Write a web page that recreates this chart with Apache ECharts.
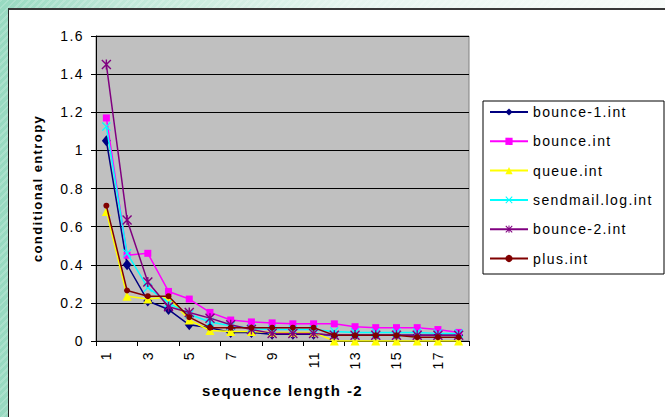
<!DOCTYPE html>
<html>
<head>
<meta charset="utf-8">
<script src="https://cdn.jsdelivr.net/npm/echarts@6/dist/echarts.min.js"></script>
<style>
  html, body { margin: 0; padding: 0; width: 665px; height: 417px; overflow: hidden; }
  body {
    background:
      repeating-linear-gradient(135deg, rgba(255,255,255,0.18) 0 2px, rgba(255,255,255,0) 2px 5px),
      linear-gradient(90deg, #97d9c0 0px, #bfe8d8 120px, #e6f5ef 350px, #f7fbf9 665px);
    position: relative;
  }
  #frame { position: absolute; left: 8px; top: 8px; width: 700px; height: 420px; background: #fff;
    border-top: 2px solid #383838; border-left: 1px solid #222; }
  #chart { position: absolute; left: 0; top: 0; width: 665px; height: 417px; }
  #chart svg text { letter-spacing: 1.4px; }
</style>
</head>
<body>
<div id="frame"></div>
<div id="chart"></div>
<script>
const categories = ['1','2','3','4','5','6','7','8','9','10','11','12','13','14','15','16','17','18'];
const bounce1  = [1.05, 0.40, 0.21, 0.165, 0.085, 0.07, 0.045, 0.045, 0.035, 0.035, 0.035, 0.03, 0.03, 0.03, 0.03, 0.03, 0.03, 0.03];
const bounce   = [1.17, 0.45, 0.46, 0.26, 0.22, 0.15, 0.11, 0.10, 0.095, 0.09, 0.09, 0.09, 0.075, 0.07, 0.07, 0.07, 0.06, 0.045];
const queue    = [0.68, 0.235, 0.22, 0.23, 0.11, 0.055, 0.05, 0.05, 0.045, 0.045, 0.045, 0.0, 0.0, 0.0, 0.0, 0.0, 0.0, 0.0];
const sendmail = [1.125, 0.46, 0.28, 0.20, 0.14, 0.10, 0.08, 0.065, 0.06, 0.06, 0.06, 0.05, 0.045, 0.045, 0.045, 0.045, 0.04, 0.04];
const bounce2  = [1.45, 0.635, 0.31, 0.18, 0.15, 0.12, 0.085, 0.06, 0.04, 0.04, 0.04, 0.03, 0.03, 0.03, 0.03, 0.03, 0.03, 0.03];
const plus     = [0.71, 0.265, 0.235, 0.235, 0.125, 0.07, 0.07, 0.07, 0.07, 0.07, 0.07, 0.03, 0.03, 0.03, 0.03, 0.02, 0.02, 0.02];
const seriesNames = ['bounce-1.int', 'bounce.int', 'queue.int', 'sendmail.log.int', 'bounce-2.int', 'plus.int'];
const yTicks = [0, 0.2, 0.4, 0.6, 0.8, 1, 1.2, 1.4, 1.6];

const X_PATH = 'path://M1,0 L5,4 L9,0 L10,1 L6,5 L10,9 L9,10 L5,6 L1,10 L0,9 L4,5 L0,1 Z';
const STAR_PATH = 'path://M1,0 L5,4 L9,0 L10,1 L6,5 L10,9 L9,10 L5,6 L1,10 L0,9 L4,5 L0,1 Z M4.3,0 L5.7,0 L5.7,10 L4.3,10 Z';

const FONT = 'Liberation Sans, Arial, sans-serif';
const styles = [
  { data: bounce1,  color: '#000080', symbol: 'diamond', size: [9, 11] },
  { data: bounce,   color: '#FF00FF', symbol: 'rect', size: 7 },
  { data: queue,    color: '#FFFF00', symbol: 'triangle', size: 9 },
  { data: sendmail, color: '#00FFFF', symbol: X_PATH, size: 9 },
  { data: bounce2,  color: '#800080', symbol: STAR_PATH, size: 10 },
  { data: plus,     color: '#800000', symbol: 'circle', size: 6 }
];

const chart = echarts.init(document.getElementById('chart'), null, { renderer: 'svg' });
chart.setOption({
  animation: false,
  backgroundColor: 'transparent',
  textStyle: { fontFamily: FONT },
  graphic: [{
    type: 'rect', shape: { x: 483, y: 101, width: 181, height: 173 },
    style: { fill: '#fff', stroke: '#000', lineWidth: 1 }, z: 0
  }],
  grid: { left: 96, right: 196, top: 36, bottom: 76, show: true,
          backgroundColor: '#c0c0c0', borderColor: '#808080', borderWidth: 1 },
  legend: {
    orient: 'vertical', left: 489, top: 105, padding: 0,
    itemWidth: 38, itemHeight: 9, itemGap: 15.3,
    data: seriesNames,
    textStyle: { fontSize: 14, color: '#000', fontFamily: FONT, lineHeight: 14 },
    z: 5
  },
  xAxis: {
    type: 'category', data: categories, boundaryGap: true,
    name: 'sequence length -2', nameLocation: 'middle', nameGap: 42,
    nameTextStyle: { fontSize: 15, fontWeight: 'bold', color: '#000' },
    axisLine: { lineStyle: { color: '#000', width: 1 } },
    axisTick: { show: true, length: 5, lineStyle: { color: '#000' } },
    axisLabel: { rotate: 90, interval: 1, fontSize: 14, color: '#000', margin: 10 },
    splitLine: { show: false }
  },
  yAxis: {
    type: 'value', min: 0, max: 1.6, interval: 0.2,
    name: 'conditional entropy', nameLocation: 'middle', nameGap: 52,
    nameTextStyle: { fontSize: 13, fontWeight: 'bold', color: '#000' },
    axisLine: { show: true, lineStyle: { color: '#000', width: 1 } },
    axisTick: { show: true, length: 5, lineStyle: { color: '#000' } },
    axisLabel: { fontSize: 14, color: '#000', margin: 12,
      formatter: function (v) { return String(+v.toFixed(1)); } },
    splitLine: { show: true, lineStyle: { color: '#000', width: 1 } }
  },
  series: styles.map(function (s, i) {
    return {
      name: seriesNames[i], type: 'line', data: s.data,
      symbol: s.symbol, symbolSize: s.size, showAllSymbol: true,
      lineStyle: { color: s.color, width: 1.5 },
      itemStyle: { color: s.color, opacity: 1 },
      emphasis: { disabled: true },
      z: 2 + i
    };
  })
});
</script>
</body>
</html>
